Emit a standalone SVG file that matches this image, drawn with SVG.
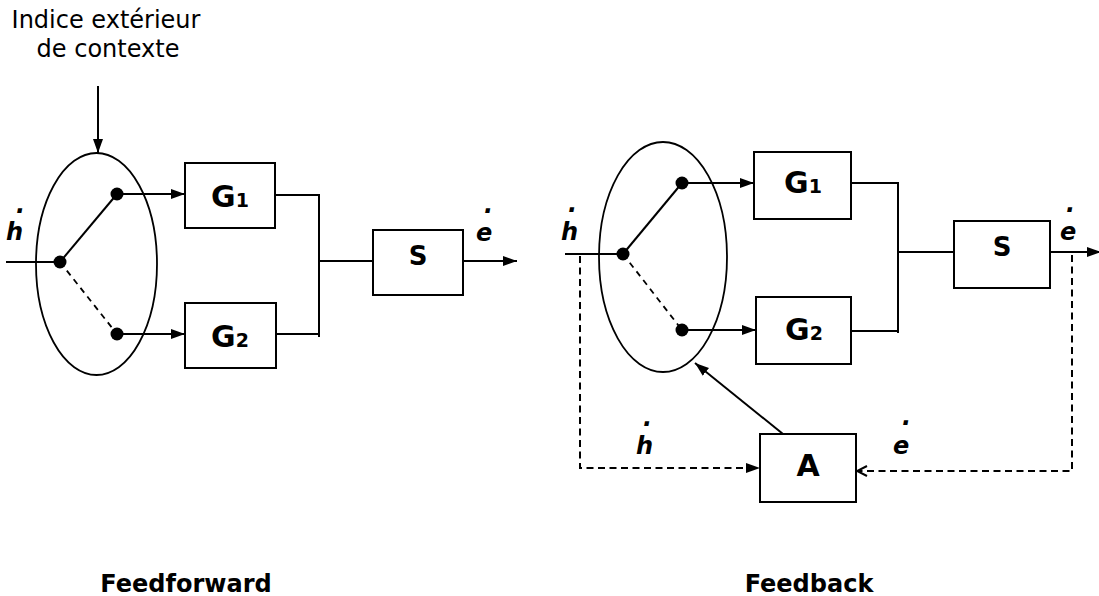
<svg xmlns="http://www.w3.org/2000/svg" width="1099" height="596" viewBox="0 0 1099 596">
  <style>
    text { font-family: "DejaVu Sans", Verdana, sans-serif; fill: #000; }
    .title { font-size: 24px; }
    .lbl { font-size: 30px; font-weight: bold; }
    .sub { font-size: 19px; }
    .var { font-size: 24px; font-weight: bold; font-style: italic; }
    .dot { font-size: 24px; font-weight: bold; font-style: italic; }
    .cap { font-size: 24px; font-weight: bold; }
    .box { fill: #fff; stroke: #000; stroke-width: 2; }
    .ell { fill: none; stroke: #000; stroke-width: 1.8; }
    .ln { fill: none; stroke: #000; stroke-width: 2; }
    .dash { fill: none; stroke: #000; stroke-width: 2; stroke-dasharray: 7 4.5; }
    .sw { fill: none; stroke: #000; stroke-width: 1.8; stroke-dasharray: 6 5; }
    .pt { fill: #000; }
  </style>
  <defs>
    <marker id="arr" markerUnits="userSpaceOnUse" markerWidth="15" markerHeight="11" refX="14" refY="5.5" orient="auto">
      <path d="M0,0.5 L14,5.5 L0,10.5 z" fill="#000"/>
    </marker>
    <marker id="open" markerUnits="userSpaceOnUse" markerWidth="14" markerHeight="12" refX="12" refY="6" orient="auto">
      <path d="M2,1 L12,6 L2,11" fill="none" stroke="#000" stroke-width="2"/>
    </marker>
  </defs>

  <!-- Titles -->
  <text class="title" x="106" y="28" text-anchor="middle">Indice extérieur</text>
  <text class="title" x="108" y="57" text-anchor="middle">de contexte</text>
  <text class="cap" x="186" y="592" text-anchor="middle">Feedforward</text>
  <text class="cap" x="809" y="592" text-anchor="middle">Feedback</text>

  <!-- ===== Feedforward ===== -->
  <g id="ff-switch">
    <ellipse class="ell" cx="96.5" cy="264" rx="60.5" ry="111"/>
  </g>
  <g id="ff-G1">
    <rect class="box" x="185" y="163" width="90" height="65"/>
    <text class="lbl" x="230" y="207" text-anchor="middle">G<tspan class="sub">1</tspan></text>
  </g>
  <g id="ff-G2">
    <rect class="box" x="185" y="303" width="91" height="65"/>
    <text class="lbl" x="230" y="347" text-anchor="middle">G<tspan class="sub">2</tspan></text>
  </g>
  <g id="ff-S">
    <rect class="box" x="373" y="230" width="90" height="65"/>
    <text class="lbl" x="418" y="265" text-anchor="middle" style="font-size:26px">S</text>
  </g>
  <g id="ff-labels">
    <text class="dot" x="16" y="213">.</text>
    <text class="var" x="6" y="240">h</text>
    <text class="dot" x="484" y="213">.</text>
    <text class="var" x="476" y="241">e</text>
  </g>

  <!-- ===== Feedback ===== -->
  <g id="fb-switch">
    <ellipse class="ell" cx="663" cy="257" rx="64" ry="115"/>
  </g>
  <g id="fb-G1">
    <rect class="box" x="754" y="152" width="97" height="67"/>
    <text class="lbl" x="803" y="193" text-anchor="middle">G<tspan class="sub">1</tspan></text>
  </g>
  <g id="fb-G2">
    <rect class="box" x="756" y="297" width="95" height="67"/>
    <text class="lbl" x="804" y="340" text-anchor="middle">G<tspan class="sub">2</tspan></text>
  </g>
  <g id="fb-S">
    <rect class="box" x="954" y="221" width="96" height="67"/>
    <text class="lbl" x="1002" y="256" text-anchor="middle" style="font-size:26px">S</text>
  </g>
  <g id="fb-A">
    <rect class="box" x="760" y="434" width="96" height="68"/>
    <text class="lbl" x="808" y="476" text-anchor="middle">A</text>
  </g>
  <g id="fb-labels">
    <text class="dot" x="568" y="212">.</text>
    <text class="var" x="561" y="240">h</text>
    <text class="dot" x="643" y="426">.</text>
    <text class="var" x="636" y="454">h</text>
    <text class="dot" x="1066" y="212">.</text>
    <text class="var" x="1060" y="240">e</text>
    <text class="dot" x="902" y="425">.</text>
    <text class="var" x="893" y="454">e</text>
  </g>

  <!-- ===== Connectors ===== -->
  <g id="connectors">
    <!-- feedforward -->
    <line class="ln" x1="98" y1="86" x2="98" y2="153" marker-end="url(#arr)"/>
    <line class="ln" x1="6" y1="262" x2="60" y2="262"/>
    <line class="ln" x1="60" y1="262" x2="117" y2="194"/>
    <line class="sw" x1="60" y1="262" x2="117" y2="334"/>
    <line class="ln" x1="117" y1="194" x2="185" y2="194" marker-end="url(#arr)"/>
    <line class="ln" x1="117" y1="334" x2="185" y2="334" marker-end="url(#arr)"/>
    <polyline class="ln" points="275,195 319,195 319,337"/>
    <line class="ln" x1="276" y1="334" x2="319" y2="334"/>
    <line class="ln" x1="319" y1="261" x2="373" y2="261"/>
    <line class="ln" x1="463" y1="261" x2="517" y2="261" marker-end="url(#arr)"/>

    <!-- feedback -->
    <line class="ln" x1="565" y1="254" x2="623" y2="254"/>
    <line class="ln" x1="623" y1="254" x2="682" y2="183"/>
    <line class="sw" x1="623" y1="254" x2="682" y2="330"/>
    <line class="ln" x1="682" y1="183" x2="754" y2="183" marker-end="url(#arr)"/>
    <line class="ln" x1="682" y1="330" x2="756" y2="330" marker-end="url(#arr)"/>
    <polyline class="ln" points="851,183 898,183 898,333"/>
    <line class="ln" x1="851" y1="331" x2="898" y2="331"/>
    <line class="ln" x1="898" y1="252" x2="954" y2="252"/>
    <line class="ln" x1="1050" y1="252" x2="1101" y2="252" marker-end="url(#arr)"/>
    <polyline class="dash" points="580,256 580,468 760,468" marker-end="url(#arr)"/>
    <polyline class="dash" points="1072,255 1072,471 857,471" marker-end="url(#open)"/>
    <line class="ln" x1="783" y1="434" x2="695" y2="363" marker-end="url(#arr)"/>
  </g>

  <!-- switch points (drawn on top) -->
  <g id="ff-points">
    <circle class="pt" cx="60" cy="262" r="6.5"/>
    <circle class="pt" cx="117" cy="194" r="6.5"/>
    <circle class="pt" cx="117" cy="334" r="6.5"/>
  </g>
  <g id="fb-points">
    <circle class="pt" cx="623" cy="254" r="6.5"/>
    <circle class="pt" cx="682" cy="183" r="6.5"/>
    <circle class="pt" cx="682" cy="330" r="6.5"/>
  </g>
</svg>
